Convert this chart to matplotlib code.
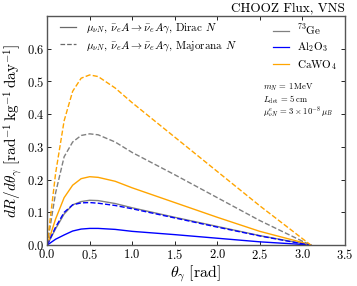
import numpy as np
import matplotlib
matplotlib.use("Agg")
import matplotlib.pyplot as plt
from matplotlib.lines import Line2D

plt.rcParams["mathtext.fontset"] = "cm"
plt.rcParams["font.family"] = "serif"
plt.rcParams["font.serif"] = ["cmr10"]
plt.rcParams["axes.unicode_minus"] = False
plt.rcParams["axes.formatter.use_mathtext"] = True

# theta grid (rad)
theta = [0.0, 0.1, 0.2, 0.3, 0.4, 0.5, 0.6, 0.8, 1.0, 1.5, 2.0, 2.5, 3.0, 3.1]

# Dirac N (solid)
ge_dirac = [0.0, 0.05, 0.095, 0.123, 0.133, 0.137, 0.136, 0.127, 0.114, 0.085, 0.057, 0.029, 0.005, 0.0]
al_dirac = [0.0, 0.018, 0.031, 0.043, 0.049, 0.051, 0.051, 0.048, 0.042, 0.032, 0.021, 0.010, 0.002, 0.0]
ca_dirac = [0.0, 0.08, 0.145, 0.183, 0.203, 0.209, 0.207, 0.195, 0.175, 0.13, 0.085, 0.042, 0.008, 0.0]

# Majorana N (dashed)
ge_major = [0.0, 0.16, 0.27, 0.315, 0.335, 0.34, 0.337, 0.315, 0.283, 0.215, 0.145, 0.075, 0.012, 0.0]
al_major = [0.0, 0.055, 0.10, 0.123, 0.129, 0.13, 0.128, 0.121, 0.111, 0.083, 0.055, 0.028, 0.004, 0.0]
ca_major = [0.0, 0.22, 0.38, 0.47, 0.51, 0.52, 0.515, 0.48, 0.435, 0.33, 0.225, 0.12, 0.02, 0.0]

materials = [r"$^{73}\mathrm{Ge}$", r"$\mathrm{Al_2O_3}$", r"$\mathrm{CaWO_4}$"]
colors = ["gray", "blue", "orange"]

fig = plt.figure(figsize=(3.57, 2.86), dpi=100)
ax = fig.add_axes([0.132, 0.143, 0.834, 0.801])

for y, c in zip([ge_dirac, al_dirac, ca_dirac], colors):
    ax.plot(theta, y, color=c, lw=1.0)
for y, c in zip([ge_major, al_major, ca_major], colors):
    ax.plot(theta, y, color=c, lw=1.0, ls="--")

ax.set_xlim(0, 3.5)
ax.set_ylim(0, 0.7)
ax.set_xticks(np.arange(0, 3.51, 0.5))
ax.set_yticks(np.arange(0, 0.61, 0.1))
ax.tick_params(direction="in", top=True, right=True, labelsize=9, length=3, width=0.6, pad=2)
for s in ax.spines.values():
    s.set_color("#555555")
    s.set_linewidth(1.0)

ax.set_xlabel(r"$\theta_\gamma\ [\mathrm{rad}]$", fontsize=11.5, labelpad=1)
ax.set_ylabel(r"$dR/d\theta_\gamma\ [\mathrm{rad}^{-1}\,\mathrm{kg}^{-1}\,\mathrm{day}^{-1}]$",
              fontsize=11, labelpad=2)
ax.set_title("CHOOZ Flux, VNS", loc="right", fontsize=9.5, pad=3)

proc = r"$\mu_{\nu N}$, $\bar{\nu}_e A\rightarrow\bar{\nu}_e A\gamma$, "
h1 = [Line2D([], [], color="dimgray", lw=0.9),
      Line2D([], [], color="dimgray", lw=0.9, ls="--")]
leg1 = ax.legend(h1, [proc + r"Dirac $N$", proc + r"Majorana $N$"],
                 loc="upper left", bbox_to_anchor=(0.044, 0.976), frameon=False,
                 borderaxespad=0, borderpad=0,
                 fontsize=8, handlelength=1.4, handletextpad=0.9, labelspacing=0.3)
ax.add_artist(leg1)

h2 = [Line2D([], [], color=c, lw=0.9) for c in colors]
ax.legend(h2, materials, loc="upper left", bbox_to_anchor=(0.758, 0.972),
          frameon=False, borderaxespad=0, borderpad=0,
          fontsize=8, handlelength=1.5, handletextpad=0.7, labelspacing=0.3)

notes = [r"$m_N\,=\,1\,\mathrm{MeV}$",
         r"$L_\mathrm{det}\,=\,5\,\mathrm{cm}$",
         r"$\mu_{\nu N}^e\,=\,3\times10^{-8}\,\mu_B$"]
for i, s in enumerate(notes):
    ax.text(0.725, 0.69 - 0.055 * i, s, transform=ax.transAxes,
            fontsize=6.2, va="center", ha="left")

fig.savefig("out.png", dpi=100)
